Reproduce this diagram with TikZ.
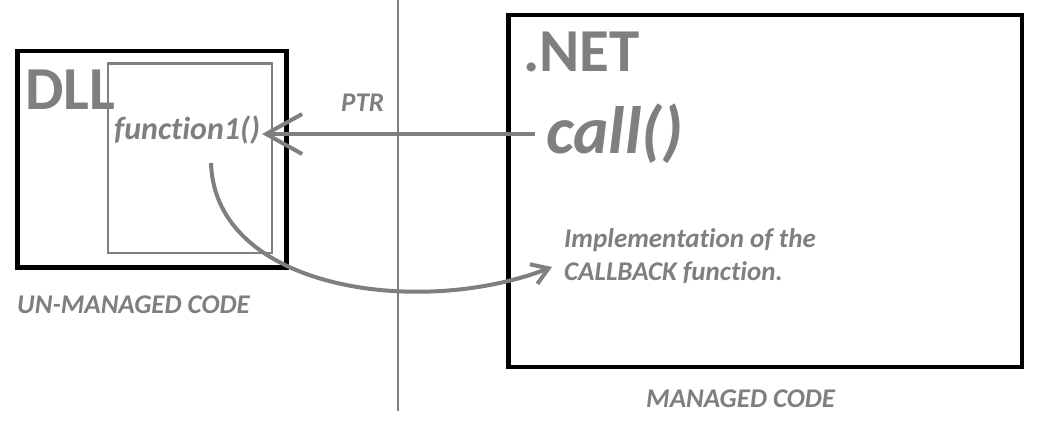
\documentclass[tikz,border=0pt]{standalone}
\usepackage{fontspec}
\setmainfont{Carlito}[Ligatures=NoCommon]
\usetikzlibrary{arrows.meta}
\definecolor{gr}{RGB}{127,127,127}
\begin{document}
\begin{tikzpicture}[x=1pt,y=-1pt,
  blackbox/.style={draw=black,line width=4.5pt,inner sep=0pt,outer sep=0pt},
  graybox/.style={draw=gr,line width=2.7pt,inner sep=0pt,outer sep=0pt},
  lbl/.style={text=gr,inner sep=0pt,anchor=base west,font=\bfseries\itshape\fontsize{27}{27}\selectfont},
  big/.style={text=gr,inner sep=0pt,anchor=base west,font=\bfseries\fontsize{61}{61}\selectfont},
  conn/.style={draw=gr,line width=4pt},
  bigtip/.style={-{Straight Barb[length=36pt,width=40pt]}},
  smalltip/.style={-{Straight Barb[length=16pt,width=21pt]}}]
\useasboundingbox (0,0) rectangle (1040,423);
\fill[white] (0,0) rectangle (1040,423);
% divider
\draw[gr,line width=2.5pt] (398,0) coordinate (divtop) -- (398,411) coordinate (divbot);
% boxes
\node[blackbox,minimum width=269pt,minimum height=216.5pt] (dllbox) at (152,159.25) {};
\node[graybox,minimum width=164pt,minimum height=189.5pt] (innerbox) at (190,158.25) {};
\node[blackbox,minimum width=513.5pt,minimum height=352pt] (netbox) at (765.25,191) {};
% texts
\node[big] (dll) at (25,109) {DLL};
\node[big] (net) at (523,71) {.NET};
\node[text=gr,inner sep=0pt,anchor=base west,font=\bfseries\itshape\fontsize{67}{67}\selectfont] (call) at (546,153) {call()};
\node[text=gr,inner sep=0pt,anchor=base west,font=\bfseries\itshape\fontsize{32}{32}\selectfont] (func) at (114,139) {function1()};
\node[lbl] (ptr) at (341,111) {PTR};
\node[lbl] (impl1) at (564,247) {Implementation of the};
\node[lbl] (impl2) at (564,280) {CALLBACK function.};
\node[lbl] (unman) at (17,313) {UN-MANAGED CODE};
\node[lbl] (man) at (646,407) {MANAGED CODE};
% connectors
\coordinate (ptrstart) at (535,134);
\coordinate (ptrend) at (262,134);
\draw[conn,bigtip] (ptrstart) -- (ptrend);
\coordinate (cbstart) at (211,163);
\coordinate (cbend) at (552,267);
\draw[conn,smalltip] (cbstart) .. controls (215,290) and (420,318) .. (cbend);
\end{tikzpicture}
\end{document}
